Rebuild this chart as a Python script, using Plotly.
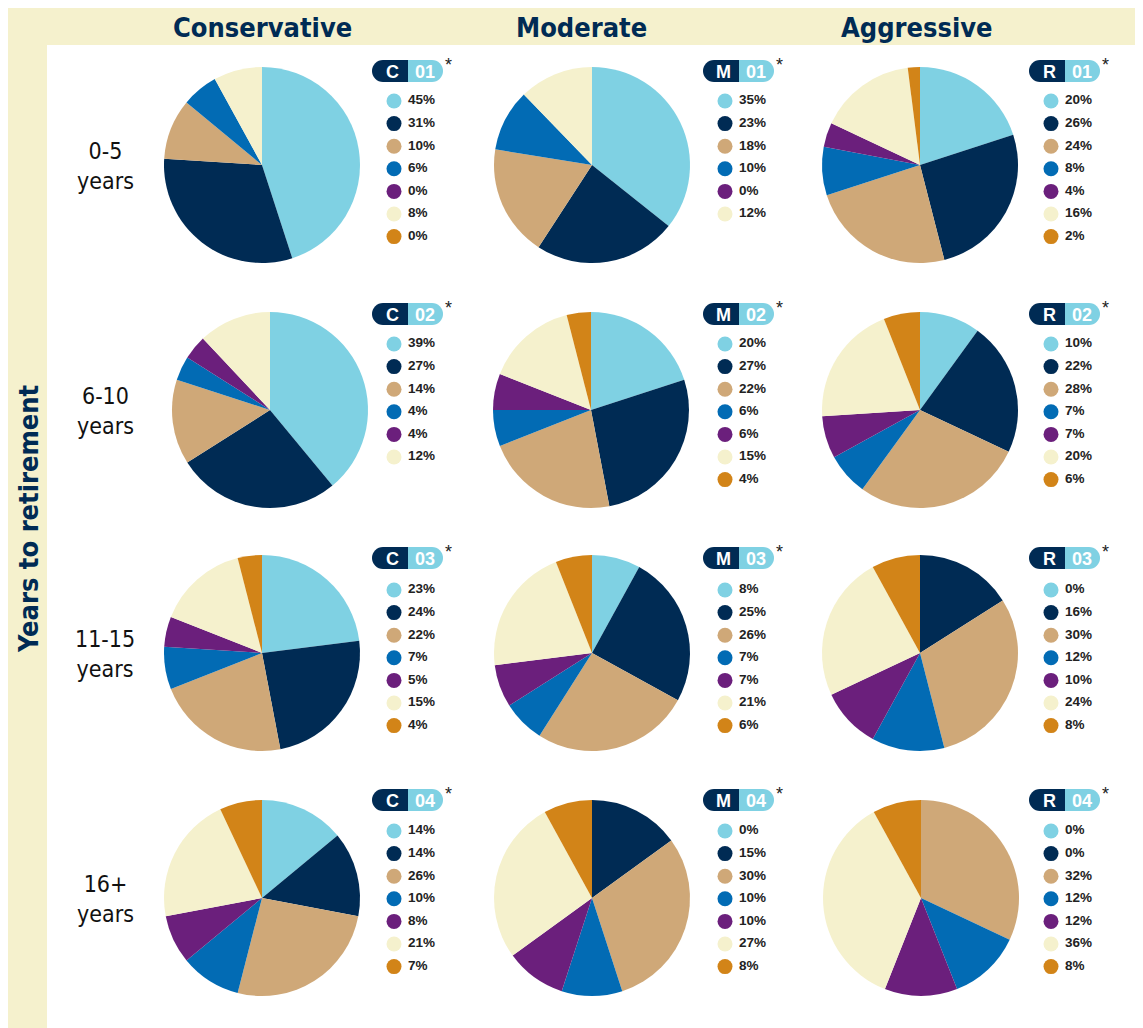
import plotly.graph_objects as go

# Page has an 8px body margin; the figure fills the rest of the window.
OFF = 8
W, H = 1143 - OFF, 1028 - OFF

strategies = ["Conservative", "Moderate", "Aggressive"]
strategy_codes = ["C", "M", "R"]
horizon_labels = ["0-5<br>years", "6-10<br>years", "11-15<br>years", "16+<br>years"]
portfolio_numbers = ["01", "02", "03", "04"]

slice_colors = ["#7fd1e3", "#002b54", "#cfa878", "#026bb4", "#6b1f7c", "#f5f1cd", "#d28418"]

C01 = [45, 31, 10, 6, 0, 8, 0]
M01 = [35, 23, 18, 10, 0, 12]
R01 = [20, 26, 24, 8, 4, 16, 2]
C02 = [39, 27, 14, 4, 4, 12]
M02 = [20, 27, 22, 6, 6, 15, 4]
R02 = [10, 22, 28, 7, 7, 20, 6]
C03 = [23, 24, 22, 7, 5, 15, 4]
M03 = [8, 25, 26, 7, 7, 21, 6]
R03 = [0, 16, 30, 12, 10, 24, 8]
C04 = [14, 14, 26, 10, 8, 21, 7]
M04 = [0, 15, 30, 10, 10, 27, 8]
R04 = [0, 0, 32, 12, 12, 36, 8]

grid = [[C01, M01, R01], [C02, M02, R02], [C03, M03, R03], [C04, M04, R04]]

# layout (screen pixels)
pie_cx = [[262, 592, 920], [270, 591, 920], [262, 592, 920], [262, 592, 921]]
pie_cy = [165, 410, 653, 898]
R = 98
badge_left = [372, 703, 1029]
badge_cy = [71, 314, 558, 800]
item_y0 = [101, 344, 590, 831]
item_dy = 22.6

NAVY = "#002b54"
LBLUE = "#7fd1e3"
BEIGE = "#f5f1cd"
COND = "Liberation Sans Narrow, DejaVu Sans Condensed, Arial Narrow, sans-serif"
SANS = "Liberation Sans, Arial, sans-serif"

fig = go.Figure()

shapes = [
    dict(type="rect", xref="x", yref="y", x0=8, x1=1143, y0=7, y1=45, fillcolor=BEIGE, line_width=0, layer="below"),
    dict(type="rect", xref="x", yref="y", x0=8, x1=47, y0=7, y1=1028, fillcolor=BEIGE, line_width=0, layer="below"),
]
annotations = []

for j, name in enumerate(strategies):
    annotations.append(dict(x=[262, 581, 917][j], y=27, xref="x", yref="y", text=f"<b>{name}</b>",
                            showarrow=False, font=dict(family=COND, size=27, color=NAVY)))

annotations.append(dict(x=28, y=519, xref="x", yref="y", text="<b>Years to retirement</b>", textangle=-90,
                        showarrow=False, font=dict(family=COND, size=27, color=NAVY)))

for i, lab in enumerate(horizon_labels):
    annotations.append(dict(x=105, y=pie_cy[i] + 1, xref="x", yref="y", text=lab, showarrow=False,
                            font=dict(family=COND, size=23, color="#111111")))

for i in range(4):
    for j in range(3):
        vals = grid[i][j]
        cx, cy = pie_cx[i][j], pie_cy[i]
        fig.add_trace(go.Pie(
            values=vals, marker=dict(colors=slice_colors[:len(vals)], line=dict(width=0)),
            sort=False, direction="clockwise", rotation=0, textinfo="none",
            hovertemplate="%{value}%<extra></extra>", showlegend=False,
            domain=dict(x=[(cx - OFF - R) / W, (cx - OFF + R) / W],
                        y=[1 - (cy - OFF + R) / H, 1 - (cy - OFF - R) / H]),
        ))
        L = badge_left[j]
        S = L + 36
        Rt = L + 71
        T, B = badge_cy[i] - 11, badge_cy[i] + 11
        shapes += [
            dict(type="circle", xref="x", yref="y", x0=L, x1=L + 22, y0=T, y1=B, fillcolor=NAVY, line_width=0),
            dict(type="rect", xref="x", yref="y", x0=L + 11, x1=S, y0=T, y1=B, fillcolor=NAVY, line_width=0),
            dict(type="circle", xref="x", yref="y", x0=Rt - 22, x1=Rt, y0=T, y1=B, fillcolor=LBLUE, line_width=0),
            dict(type="rect", xref="x", yref="y", x0=S, x1=Rt - 11, y0=T, y1=B, fillcolor=LBLUE, line_width=0),
        ]
        annotations += [
            dict(x=(L + S) / 2 + 2, y=badge_cy[i] + 1, xref="x", yref="y", text=f"<b>{strategy_codes[j]}</b>",
                 showarrow=False, font=dict(family=SANS, size=18, color="white")),
            dict(x=(S + Rt) / 2 - 1, y=badge_cy[i] + 1, xref="x", yref="y", text=f"<b>{portfolio_numbers[i]}</b>",
                 showarrow=False, font=dict(family=SANS, size=18, color="white")),
            dict(x=Rt + 5, y=T + 5, xref="x", yref="y", text="*", showarrow=False,
                 font=dict(family=SANS, size=18, color="#222222")),
        ]
        ys = [item_y0[i] + k * item_dy for k in range(len(vals))]
        fig.add_trace(go.Scatter(
            x=[L + 22] * len(vals), y=ys, mode="markers",
            marker=dict(size=15, color=slice_colors[:len(vals)], line=dict(width=0)),
            hoverinfo="skip", showlegend=False, xaxis="x", yaxis="y"))
        fig.add_trace(go.Scatter(
            x=[L + 36] * len(vals), y=ys, mode="text", text=[f"<b>{v}%</b>" for v in vals],
            textposition="middle right", textfont=dict(family=SANS, size=13.5, color="#222222"),
            hoverinfo="skip", showlegend=False, xaxis="x", yaxis="y"))

fig.update_layout(
    width=W, height=H, margin=dict(l=0, r=0, t=0, b=0),
    paper_bgcolor="white", plot_bgcolor="rgba(0,0,0,0)",
    xaxis=dict(range=[OFF, OFF + W], visible=False, domain=[0, 1], fixedrange=True),
    yaxis=dict(range=[OFF + H, OFF], visible=False, domain=[0, 1], fixedrange=True),
    shapes=shapes, annotations=annotations,
)

fig.write_html("out.html")
